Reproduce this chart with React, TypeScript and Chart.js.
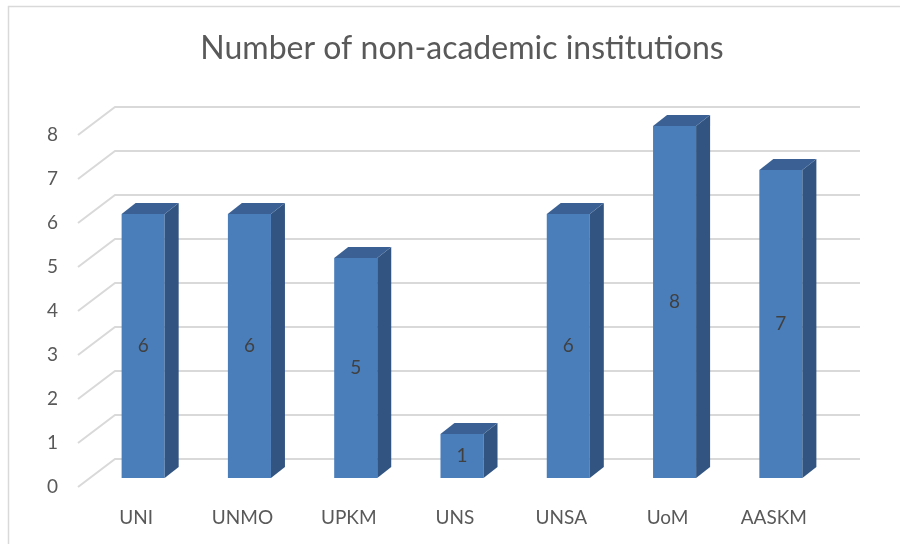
import React, { useEffect, useRef } from "react";
import { Chart, registerables } from "chart.js";

Chart.register(...registerables);

const categories = ["UNI", "UNMO", "UPKM", "UNS", "UNSA", "UoM", "AASKM"];
const values = [6, 6, 5, 1, 6, 8, 7];
const yTicks = [0, 1, 2, 3, 4, 5, 6, 7, 8];
const titleText = "Number of non-academic institutions";

const FRONT = "#4A7EBB";
const SIDE = "#325481";
const TOP = "#3B6194";
const GRID = "#d9d9d9";
const FONT = "Lato, 'Open Sans', sans-serif";

const threeD = {
  id: "threeD",
  beforeDatasetsDraw(chart: any) {
    const { ctx, chartArea, scales } = chart;
    const y = scales.y;
    ctx.save();
    ctx.strokeStyle = GRID;
    ctx.lineWidth = 2;
    for (const v of yTicks) {
      const py = y.getPixelForValue(v);
      ctx.beginPath();
      ctx.moveTo(chartArea.left - 12, py + 9);
      ctx.lineTo(chartArea.left + 25, py - 19);
      ctx.lineTo(chartArea.right + 26, py - 19);
      ctx.stroke();
    }
    // outer border (top and left)
    ctx.strokeStyle = "#d9d9d9";
    ctx.lineWidth = 1.5;
    ctx.beginPath();
    ctx.moveTo(8.5, 544);
    ctx.lineTo(8.5, 6.5);
    ctx.lineTo(900, 6.5);
    ctx.stroke();
    ctx.restore();
  },
  afterDatasetsDraw(chart: any) {
    const { ctx } = chart;
    const meta = chart.getDatasetMeta(0);
    const dx = 14;
    const dy = 11;
    ctx.save();
    meta.data.forEach((bar: any, i: number) => {
      const { x, y, base, width } = bar.getProps(["x", "y", "base", "width"], true);
      const l = x - width / 2;
      const r = x + width / 2;
      // side face
      ctx.fillStyle = SIDE;
      ctx.beginPath();
      ctx.moveTo(r, y);
      ctx.lineTo(r + dx, y - dy);
      ctx.lineTo(r + dx, base - dy);
      ctx.lineTo(r, base);
      ctx.closePath();
      ctx.fill();
      // top face
      ctx.fillStyle = TOP;
      ctx.beginPath();
      ctx.moveTo(l, y);
      ctx.lineTo(l + dx, y - dy);
      ctx.lineTo(r + dx, y - dy);
      ctx.lineTo(r, y);
      ctx.closePath();
      ctx.fill();
      // data label
      ctx.fillStyle = "#404040";
      ctx.font = `19px ${FONT}`;
      ctx.textAlign = "center";
      ctx.textBaseline = "middle";
      ctx.fillText(String(values[i]), x, (y + base) / 2);
    });
    ctx.restore();
  },
};

export default function App() {
  const ref = useRef<HTMLCanvasElement>(null);
  useEffect(() => {
    if (!ref.current) return;
    const chart = new Chart(ref.current, {
      type: "bar",
      data: {
        labels: categories,
        datasets: [
          {
            data: values,
            backgroundColor: FRONT,
            borderWidth: 0,
            categoryPercentage: 1,
            barPercentage: 0.405,
          },
        ],
      },
      options: {
        animation: false,
        responsive: true,
        maintainAspectRatio: false,
        layout: { padding: { left: 0, right: 66, top: 0, bottom: 0 } },
        plugins: {
          legend: { display: false },
          tooltip: { enabled: false },
          title: {
            display: true,
            text: titleText,
            fullSize: false,
            color: "#595959",
            font: { family: FONT, size: 32, weight: "normal" },
            padding: { top: 29, bottom: 58.6 },
          },
        },
        scales: {
          x: {
            grid: { display: false, drawTicks: false },
            border: { display: false },
            ticks: {
              color: "#595959",
              font: { family: FONT, size: 19 },
              padding: 28,
              labelOffset: -7,
              maxRotation: 0,
            },
            afterFit: (s: any) => {
              s.height = 66;
            },
          },
          y: {
            min: 0,
            max: 8,
            grid: { display: false, drawTicks: false },
            border: { display: false },
            ticks: {
              stepSize: 1,
              color: "#595959",
              font: { family: FONT, size: 19 },
              padding: 32,
              labelOffset: 9,
            },
            afterFit: (s: any) => {
              s.width = 90;
            },
          },
        },
      },
      plugins: [threeD],
    });
    return () => chart.destroy();
  }, []);
  return (
    <div style={{ position: "absolute", left: 0, top: 0, width: 900, height: 544, background: "#fff" }}>
      <canvas ref={ref} />
    </div>
  );
}
